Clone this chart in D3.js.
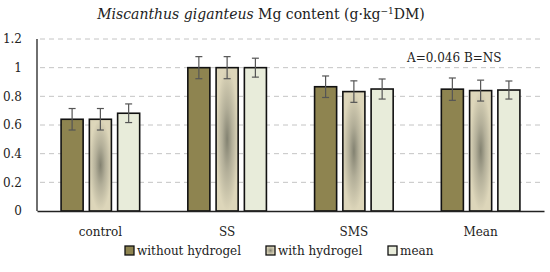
<!DOCTYPE html>
<html>
<head>
<meta charset="utf-8">
<script src="https://cdn.jsdelivr.net/npm/d3@7"></script>
<style>
  body { margin: 0; background: #fff; }
  text { font-family: "DejaVu Serif", "Liberation Serif", serif; fill: #222; }
</style>
</head>
<body>
<div id="chart"></div>
<script>
// data
var categories = ["control", "SS", "SMS", "Mean"];
var seriesNames = ["without hydrogel", "with hydrogel", "mean"];
var withoutHydrogel = [0.64, 1.0, 0.867, 0.85];
var withHydrogel = [0.64, 1.0, 0.833, 0.84];
var meanVals = [0.682, 1.0, 0.851, 0.844];
var errWithout = [0.075, 0.077, 0.075, 0.078];
var errWith = [0.075, 0.077, 0.075, 0.073];
var errMean = [0.065, 0.066, 0.07, 0.063];
var yTicks = [0, 0.2, 0.4, 0.6, 0.8, 1, 1.2];

var svgWidth = 550;
var svgHeight = 272;
var margin = { top: 39, right: 6, bottom: 61, left: 37 };
var width = svgWidth - margin.left - margin.right;
var height = svgHeight - margin.top - margin.bottom;
var labelFont = "'DejaVu Serif', serif";

var svg = d3.select("#chart").append("svg")
  .attr("width", svgWidth)
  .attr("height", svgHeight);

var defs = svg.append("defs");
var grad = defs.append("radialGradient")
  .attr("id", "withGrad")
  .attr("cx", 0.5).attr("cy", 0.5).attr("r", 0.5);
grad.append("stop").attr("offset", "0%").attr("stop-color", "#838271");
grad.append("stop").attr("offset", "45%").attr("stop-color", "#b3af99");
grad.append("stop").attr("offset", "100%").attr("stop-color", "#ddd6ba");

var colors = ["#8e8450", "url(#withGrad)", "#e8ecda"];

var chartGroup = svg.append("g")
  .attr("transform", `translate(${margin.left}, ${margin.top})`);

var x0 = d3.scaleBand().domain(categories).range([0, width]).paddingInner(0.38).paddingOuter(0.19);
var x1 = d3.scaleBand().domain(seriesNames).range([0, x0.bandwidth()]).paddingInner(0.22);
var y = d3.scaleLinear().domain([0, 1.2]).range([height, 0]);

// gridlines
chartGroup.append("g")
  .selectAll("line")
  .data(yTicks.filter(d => d > 0))
  .join("line")
  .attr("x1", 3)
  .attr("x2", width)
  .attr("y1", d => y(d))
  .attr("y2", d => y(d))
  .attr("stroke", "#c4c4c4")
  .attr("stroke-width", 1)
  .attr("stroke-dasharray", "5,4");

// y axis
var leftAxis = d3.axisLeft(y).tickValues(yTicks).tickSize(0).tickPadding(15)
  .tickFormat(d => d3.format("")(d));
var yAxis = chartGroup.append("g").call(leftAxis);
yAxis.select(".domain").remove();
yAxis.selectAll("text").style("font-size", "12px")
  .style("font-family", labelFont).attr("fill", "#222");
chartGroup.append("line")
  .attr("x1", 0).attr("x2", 0).attr("y1", 0).attr("y2", height)
  .attr("stroke", "#222").attr("stroke-width", 1.3);

var rows = categories.map((c, i) => ({
  cat: c,
  vals: [
    { s: seriesNames[0], v: withoutHydrogel[i], e: errWithout[i], k: 0 },
    { s: seriesNames[1], v: withHydrogel[i], e: errWith[i], k: 1 },
    { s: seriesNames[2], v: meanVals[i], e: errMean[i], k: 2 }
  ]
}));

var groups = chartGroup.selectAll(".grp")
  .data(rows)
  .join("g")
  .attr("transform", d => `translate(${x0(d.cat)},0)`);

groups.selectAll("rect")
  .data(d => d.vals)
  .join("rect")
  .attr("x", d => x1(d.s))
  .attr("y", d => y(d.v))
  .attr("width", x1.bandwidth())
  .attr("height", d => height - y(d.v))
  .attr("fill", d => colors[d.k])
  .attr("stroke", "#111")
  .attr("stroke-width", 1.6);

// error bars
var err = groups.selectAll(".err")
  .data(d => d.vals)
  .join("g")
  .attr("stroke", "#555")
  .attr("stroke-width", 1.2);
err.append("line")
  .attr("x1", d => x1(d.s) + x1.bandwidth() / 2)
  .attr("x2", d => x1(d.s) + x1.bandwidth() / 2)
  .attr("y1", d => y(d.v + d.e))
  .attr("y2", d => y(d.v - d.e));
err.append("line")
  .attr("x1", d => x1(d.s) + x1.bandwidth() / 2 - 3.5)
  .attr("x2", d => x1(d.s) + x1.bandwidth() / 2 + 3.5)
  .attr("y1", d => y(d.v + d.e))
  .attr("y2", d => y(d.v + d.e));
err.append("line")
  .attr("x1", d => x1(d.s) + x1.bandwidth() / 2 - 3.5)
  .attr("x2", d => x1(d.s) + x1.bandwidth() / 2 + 3.5)
  .attr("y1", d => y(d.v - d.e))
  .attr("y2", d => y(d.v - d.e));

// x axis
var bottomAxis = d3.axisBottom(x0).tickSize(0).tickPadding(16);
var xAxis = chartGroup.append("g")
  .attr("transform", `translate(0, ${height})`)
  .call(bottomAxis);
xAxis.select(".domain").attr("stroke", "#222").attr("stroke-width", 1.3);
xAxis.selectAll("text").style("font-size", "12px")
  .style("font-family", labelFont).attr("fill", "#222");

// title
var title = svg.append("text")
  .attr("x", 261)
  .attr("y", 19)
  .attr("text-anchor", "middle")
  .style("font-size", "14px");
title.append("tspan").style("font-style", "italic").text("Miscanthus giganteus");
title.append("tspan").text(" Mg content (g·kg");
title.append("tspan").attr("dy", -5).style("font-size", "9px").text("−1");
title.append("tspan").attr("dy", 5).text("DM)");

// annotation
svg.append("text")
  .attr("x", 407)
  .attr("y", 62)
  .style("font-size", "12px")
  .text("A=0.046 B=NS");

// legend
var legendX = [125, 266, 388];
var legend = svg.append("g").selectAll("g")
  .data(seriesNames)
  .join("g")
  .attr("transform", (d, i) => `translate(${legendX[i]}, 246)`);
legend.append("rect")
  .attr("width", 9).attr("height", 9)
  .attr("fill", (d, i) => colors[i])
  .attr("stroke", "#111").attr("stroke-width", 1.3);
legend.append("text")
  .attr("x", 12)
  .attr("y", 9)
  .style("font-size", "12px")
  .text(d => d);
</script>
</body>
</html>
